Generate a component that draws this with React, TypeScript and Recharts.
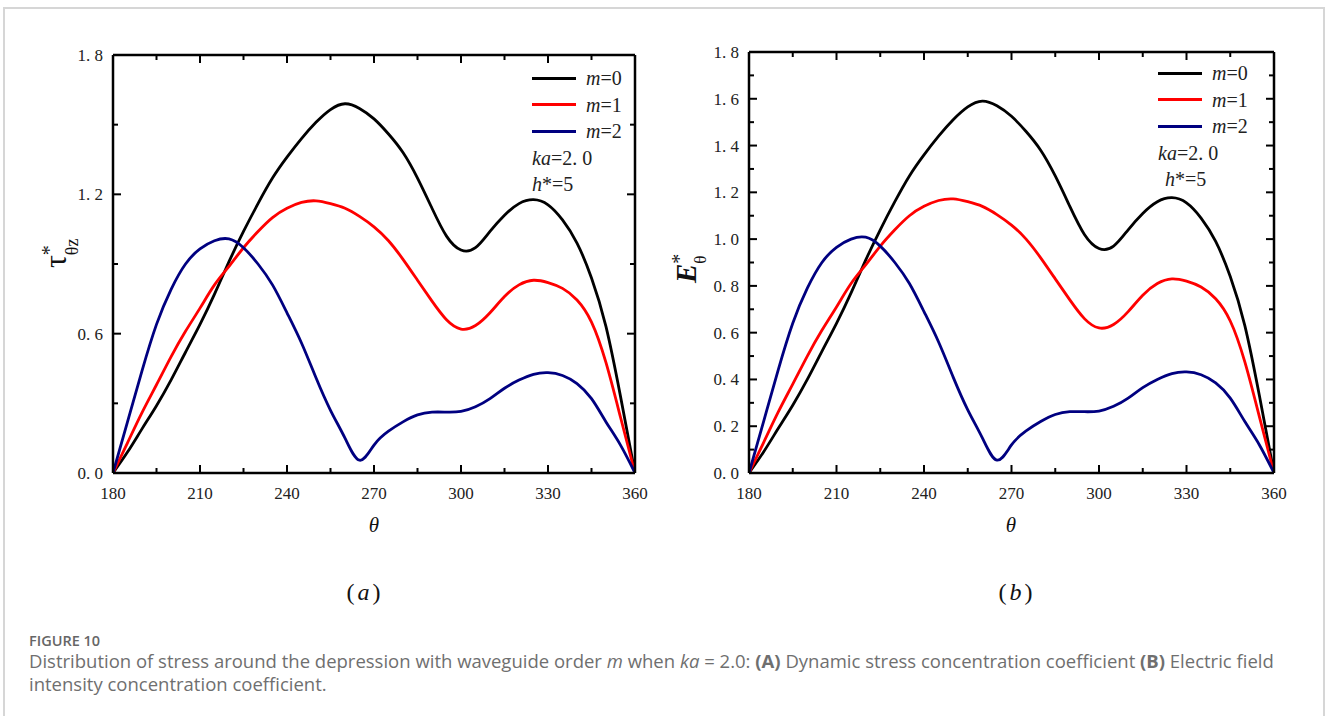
import React from 'react'
import { LineChart, Line, XAxis, YAxis, Legend } from 'recharts'

// theta in degrees, every 5 degrees
const theta = [180, 185, 190, 195, 200, 205, 210, 215, 220, 225, 230, 235, 240, 245, 250, 255, 260, 265, 270,
  275, 280, 285, 290, 295, 300, 305, 310, 315, 320, 325, 330, 335, 340, 345, 350, 355, 360]
const m0 = [0, 0.09, 0.19, 0.29, 0.4, 0.52, 0.64, 0.77, 0.91, 1.04, 1.16, 1.27, 1.36, 1.44, 1.51, 1.565, 1.59, 1.57, 1.525,
  1.46, 1.38, 1.27, 1.14, 1.02, 0.96, 0.97, 1.04, 1.11, 1.16, 1.177, 1.155, 1.09, 0.99, 0.84, 0.63, 0.33, 0]
const m1 = [0, 0.13, 0.26, 0.38, 0.5, 0.61, 0.71, 0.81, 0.89, 0.97, 1.04, 1.1, 1.14, 1.165, 1.172, 1.16, 1.14, 1.105, 1.06,
  1.0, 0.92, 0.83, 0.74, 0.66, 0.62, 0.635, 0.69, 0.76, 0.81, 0.83, 0.82, 0.795, 0.745, 0.65, 0.475, 0.24, 0]
const m2 = [0, 0.22, 0.44, 0.64, 0.79, 0.9, 0.965, 1.0, 1.008, 0.97, 0.9, 0.81, 0.69, 0.56, 0.41, 0.27, 0.15, 0.055, 0.12,
  0.18, 0.22, 0.25, 0.262, 0.262, 0.265, 0.285, 0.32, 0.365, 0.4, 0.425, 0.432, 0.42, 0.385, 0.32, 0.22, 0.12, 0]

const seriesKeys = ['m0', 'm1', 'm2']
const seriesNames = ['m=0', 'm=1', 'm=2']
const seriesColors = ['#000000', '#ff0000', '#000080']

const xTicks = [180, 195, 210, 225, 240, 255, 270, 285, 300, 315, 330, 345, 360]
const yTicksA = [0, 0.3, 0.6, 0.9, 1.2, 1.5, 1.8]
const yTicksB = [0, 0.1, 0.2, 0.3, 0.4, 0.5, 0.6, 0.7, 0.8, 0.9, 1.0, 1.1, 1.2, 1.3, 1.4, 1.5, 1.6, 1.7, 1.8]

const data = theta.map((t, i) => ({ theta: t, m0: m0[i], m1: m1[i], m2: m2[i] }))

const SERIF = '"Liberation Serif", "Times New Roman", serif'
const SANS = '"Open Sans", "Noto Sans", sans-serif'
const fmt = (v: number) => v.toFixed(1).replace('.', '. ')
const frame = { stroke: '#000', strokeWidth: 2.5 }

const BottomTick = ({ x, y, payload }: any) => {
  const major = payload.value % 30 === 0
  return (
    <g>
      <line x1={x} x2={x} y1={y} y2={y - (major ? 8 : 5)} stroke="#000" strokeWidth={2} />
      {major && (
        <text x={x} y={y + 26} textAnchor="middle" fontFamily={SERIF} fontSize={17} fill="#222">
          {payload.value}
        </text>
      )}
    </g>
  )
}

const TopTick = ({ x, y, payload }: any) => {
  const major = payload.value % 30 === 0
  return <line x1={x} x2={x} y1={y} y2={y + (major ? 8 : 5)} stroke="#000" strokeWidth={2} />
}

const leftTick = (step: number) => ({ x, y, payload }: any) => {
  const major = Math.round(payload.value * 10) % step === 0
  return (
    <g>
      <line x1={x} x2={x + (major ? 8 : 5)} y1={y} y2={y} stroke="#000" strokeWidth={2} />
      {major && (
        <text x={x - 10} y={y + 6} textAnchor="end" fontFamily={SERIF} fontSize={17} fill="#222">
          {fmt(payload.value)}
        </text>
      )}
    </g>
  )
}

const rightTick = (step: number) => ({ x, y, payload }: any) => {
  const major = Math.round(payload.value * 10) % step === 0
  return <line x1={x} x2={x - (major ? 8 : 5)} y1={y} y2={y} stroke="#000" strokeWidth={2} />
}

function LegendBox({ payload, hIndent }: any) {
  const row = { display: 'flex', alignItems: 'center', height: 26.5, whiteSpace: 'nowrap' as const }
  return (
    <div style={{ fontFamily: SERIF, fontSize: 20, color: '#222', lineHeight: 1 }}>
      {(payload || []).map((p: any) => (
        <div key={p.value} style={row}>
          <span style={{ display: 'inline-block', width: 44, height: 3, background: p.color, marginRight: 10 }} />
          <span><i>m</i>{String(p.value).slice(1)}</span>
        </div>
      ))}
      <div style={row}><span><i>ka</i>=2. 0</span></div>
      <div style={{ ...row, paddingLeft: hIndent }}><span><i>h</i>*=5</span></div>
    </div>
  )
}

function Panel({ width, margin, yWidth, yTicks, step, legendLeft, legendTop, hIndent }: any) {
  return (
    <LineChart width={width} height={560} data={data} margin={margin}>
      <XAxis dataKey="theta" type="number" domain={[180, 360]} allowDataOverflow ticks={xTicks} interval={0}
        tickSize={0} tickMargin={0} height={87} axisLine={frame} tickLine={false} tick={BottomTick} />
      <XAxis xAxisId="top" orientation="top" dataKey="theta" type="number" domain={[180, 360]} allowDataOverflow
        ticks={xTicks} interval={0} tickSize={0} tickMargin={0} height={1} axisLine={frame} tickLine={false} tick={TopTick} />
      <YAxis type="number" domain={[0, 1.8]} allowDataOverflow ticks={yTicks} interval={0} width={yWidth}
        tickSize={0} tickMargin={0} axisLine={frame} tickLine={false} tick={leftTick(step)} />
      <YAxis yAxisId="right" orientation="right" type="number" domain={[0, 1.8]} allowDataOverflow ticks={yTicks}
        interval={0} width={1} tickSize={0} tickMargin={0} axisLine={frame} tickLine={false} tick={rightTick(step)} />
      {seriesKeys.map((k, i) => (
        <Line key={k} dataKey={k} name={seriesNames[i]} type="natural" stroke={seriesColors[i]} strokeWidth={2.8}
          dot={false} isAnimationActive={false} />
      ))}
      {/* invisible copy so the mirrored top / right axes have a series of their own */}
      <Line dataKey="m0" xAxisId="top" yAxisId="right" stroke="none" legendType="none" dot={false}
        activeDot={false} isAnimationActive={false} />
      <Legend layout="horizontal" verticalAlign="middle" align="center"
        wrapperStyle={{ left: legendLeft, top: legendTop, width: 'auto', height: 'auto' }}
        content={(p: any) => <LegendBox payload={(p.payload || []).filter((e: any) => e.type !== 'none')} hIndent={hIndent} />} />
    </LineChart>
  )
}

export default function App() {
  return (
    <div style={{ position: 'absolute', left: 0, top: 0, width: 1328, height: 716, background: '#fff', overflow: 'hidden' }}>
      <div style={{ position: 'absolute', left: 3, top: 7, width: 1322, height: 760, border: '2px solid #d6d6d6', boxSizing: 'border-box' }} />

      <div style={{ position: 'absolute', left: 0, top: 0 }}>
        <Panel width={660} margin={{ top: 54, right: 24, bottom: 0, left: 0 }} yWidth={113} yTicks={yTicksA} step={6}
          legendLeft={532} legendTop={65} hIndent={0} />
      </div>
      <div style={{ position: 'absolute', left: 660, top: 0 }}>
        <Panel width={668} margin={{ top: 51, right: 53, bottom: 0, left: 0 }} yWidth={89} yTicks={yTicksB} step={2}
          legendLeft={498} legendTop={60} hIndent={7} />
      </div>

      <svg width={1328} height={716} style={{ position: 'absolute', left: 0, top: 0, pointerEvents: 'none' }}>
        <g fontFamily={SERIF} fill="#111">
          <text transform="rotate(-90 66 268)" x={66} y={268}>
            <tspan fontSize={32}>τ</tspan>
            <tspan fontSize={20} dy={-10}>*</tspan>
            <tspan fontSize={18} dx={-10} dy={22}>θz</tspan>
          </text>
          <text transform="rotate(-90 696 283)" x={696} y={283}>
            <tspan fontSize={29} fontStyle="italic" fontWeight="bold">E</tspan>
            <tspan fontSize={20} dy={-10}>*</tspan>
            <tspan fontSize={17} dx={-10} dy={20}>θ</tspan>
          </text>
          <text x={374} y={532} textAnchor="middle" fontSize={21} fontStyle="italic">θ</text>
          <text x={1011} y={532} textAnchor="middle" fontSize={21} fontStyle="italic">θ</text>
          <text x={365} y={600} textAnchor="middle" fontSize={24} letterSpacing={3}>
            (<tspan fontStyle="italic">a</tspan>)
          </text>
          <text x={1017} y={600} textAnchor="middle" fontSize={24} letterSpacing={3}>
            (<tspan fontStyle="italic">b</tspan>)
          </text>
        </g>
      </svg>

      <div style={{ position: 'absolute', left: 29, top: 633, fontFamily: SANS, fontSize: 14.5, lineHeight: '16px', fontWeight: 600, color: '#666' }}>
        FIGURE 10
      </div>
      <div style={{ position: 'absolute', left: 29, top: 649, fontFamily: SANS, fontSize: 18.5, lineHeight: '23px', color: '#6f6f6f', whiteSpace: 'nowrap' }}>
        Distribution of stress around the depression with waveguide order <i>m</i> when <i>ka</i> = 2.0: <b>(A)</b> Dynamic stress
        concentration coefficient <b>(B)</b> Electric field
        <br />
        intensity concentration coefficient.
      </div>
    </div>
  )
}
